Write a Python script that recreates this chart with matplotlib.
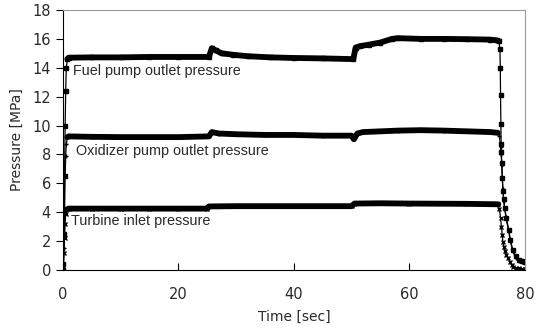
# turbopump pressures during hot-fire test
import matplotlib
matplotlib.use('Agg')
import matplotlib.pyplot as plt
import numpy as np

# Fuel pump outlet pressure [MPa]
fuel_t = [0, 0.1, 0.2, 0.3, 0.4, 0.5, 0.6, 0.8, 1.0, 5, 10, 15, 20, 25.3, 25.8,
          26.5, 27.5, 29.5, 32, 36, 40, 45, 50.3, 50.7, 51.5, 53, 55, 57, 58,
          62, 66, 70, 74, 75.1, 75.5, 75.7, 75.75, 75.8, 75.85, 75.9, 75.95,
          76.0, 76.1, 76.2, 76.35, 76.5, 76.8, 77.2, 77.5, 77.9, 78.4, 79.0,
          79.5, 80.0]
fuel_p = [0, 0.4, 2.5, 6.5, 10.0, 12.4, 14.0, 14.6, 14.7, 14.72, 14.72, 14.75,
          14.75, 14.75, 15.35, 15.2, 15.0, 14.9, 14.8, 14.72, 14.68, 14.65,
          14.6, 15.4, 15.5, 15.6, 15.75, 16.0, 16.05, 16.0, 16.0, 15.98, 15.95,
          15.9, 15.85, 15.3, 14.0, 12.1, 10.1, 8.7, 8.2, 7.4, 6.4, 5.5, 4.9,
          4.3, 3.6, 2.8, 2.1, 1.4, 0.95, 0.7, 0.6, 0.53]

# Oxidizer pump outlet pressure [MPa]
ox_t = [0, 0.1, 0.2, 0.3, 0.4, 0.5, 0.6, 0.8, 1.0, 5, 10, 15, 20, 25.3, 25.8,
        27, 30, 35, 40, 45, 50, 50.4, 51.0, 52, 55, 58, 62, 66, 70, 74, 75.3,
        75.6, 75.8, 75.9, 76.0, 76.1, 76.2, 76.35, 76.5, 76.8, 77.2, 77.5,
        77.9, 78.4, 79.0, 79.5, 80.0]
ox_p = [0, 0.3, 1.5, 4.0, 6.5, 7.9, 8.7, 9.2, 9.25, 9.22, 9.2, 9.2, 9.2, 9.25,
        9.55, 9.45, 9.4, 9.35, 9.35, 9.3, 9.3, 9.05, 9.45, 9.55, 9.6, 9.65,
        9.68, 9.65, 9.6, 9.55, 9.5, 9.3, 8.5, 8.0, 7.3, 6.4, 5.6, 4.8, 4.3,
        3.5, 2.7, 2.0, 1.3, 0.85, 0.65, 0.55, 0.5]

# Turbine inlet pressure [MPa]
tb_t = [0, 0.1, 0.2, 0.3, 0.4, 0.5, 0.7, 1.0, 5, 10, 15, 20, 25.0, 25.3, 30,
        40, 50, 50.5, 55, 60, 70, 75.4, 75.6, 75.8, 75.95, 76.1, 76.2, 76.4,
        76.6, 76.8, 77.1, 77.4, 77.7, 78.0, 78.5, 79.0, 79.5, 80.0]
tb_p = [0, 0.3, 1.2, 2.2, 3.2, 3.9, 4.2, 4.25, 4.25, 4.25, 4.25, 4.25, 4.25,
        4.4, 4.42, 4.42, 4.42, 4.6, 4.62, 4.6, 4.58, 4.55, 4.2, 3.6, 3.0, 2.4,
        1.96, 1.6, 1.3, 1.05, 0.83, 0.55, 0.35, 0.23, 0.15, 0.12, 0.1, 0.1]

labels = ['Fuel pump outlet pressure', 'Oxidizer pump outlet pressure',
          'Turbine inlet pressure']
label_xy = [(1.7, 13.8), (2.3, 8.25), (1.5, 3.4)]

txt = '#2a2a2a'
plt.rcParams['font.family'] = 'DejaVu Sans'

fig = plt.figure(figsize=(5.42, 3.29), dpi=100)
ax = fig.add_axes([0.1159, 0.1793, 0.8524, 0.7903])

series = [(fuel_t, fuel_p, 's'), (ox_t, ox_p, '+'), (tb_t, tb_p, 'x')]
for t, p, m in series:
    t = np.array(t)
    p = np.array(p)
    # transients: thin line with markers
    ax.plot(t, p, color='black', lw=0.9, marker=m, ms=3.5, mew=1)
    # steady part is so dense that it reads as a thick line
    on = (t >= 0.7) & (t <= 75.5)
    ax.plot(t[on], p[on], color='black', lw=4.2, solid_capstyle='round',
            solid_joinstyle='round')

for s, (x, y) in zip(labels, label_xy):
    ax.text(x, y, s, fontsize=10.4, color=txt, va='center', ha='left',
            family='Liberation Sans')

ax.set_xlim(0, 80)
ax.set_ylim(0, 18)
ax.set_xticks(np.arange(0, 81, 20))
ax.set_yticks(np.arange(0, 19, 2))
ax.tick_params(axis='x', direction='in', length=5, colors='black',
               labelcolor=txt, labelsize=10.5, pad=12)
ax.tick_params(axis='y', direction='out', length=5, colors='black',
               labelcolor=txt, labelsize=10.5)
for side in ['top', 'right']:
    ax.spines[side].set_color('#999999')
ax.set_xlabel('Time [sec]', fontsize=10, color=txt, labelpad=6)
ax.set_ylabel('Pressure [MPa]', fontsize=10, color=txt, labelpad=6)

plt.savefig('out.png', dpi=100)
